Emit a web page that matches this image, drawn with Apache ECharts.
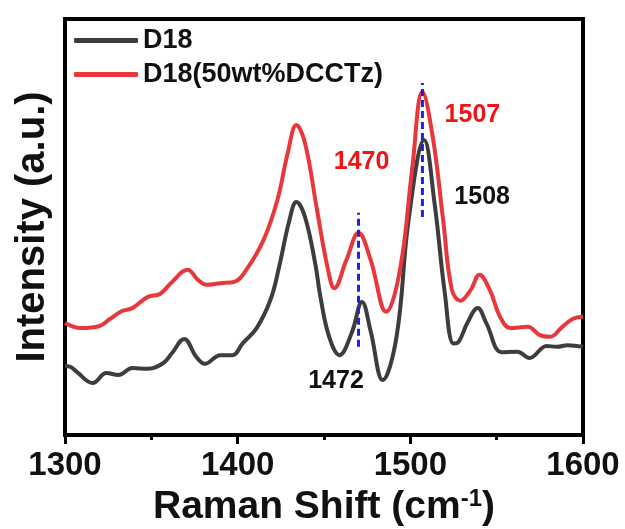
<!DOCTYPE html>
<html>
<head>
<meta charset="utf-8">
<title>Raman spectra</title>
<script src="https://cdn.jsdelivr.net/npm/echarts@6/dist/echarts.min.js"></script>
<style>
  html, body { margin: 0; padding: 0; background: #fff; }
  #chart { width: 625px; height: 529px; }
</style>
</head>
<body>
<div id="chart"></div>
<script>
// Raman shift (cm-1) and intensity (a.u.) for each sample
const d18Shift = [1300, 1303, 1307, 1316, 1324, 1331, 1339, 1348, 1357, 1362, 1369, 1376, 1381, 1390, 1397, 1403, 1411, 1419, 1424, 1430, 1434, 1439, 1445, 1448, 1453, 1459, 1466, 1472, 1477, 1484, 1492, 1499, 1508, 1514, 1520, 1525, 1528, 1533, 1539, 1544, 1553, 1562, 1569, 1579, 1585, 1591, 1600];
const d18Int   = [16.6, 16.4, 15.1, 12.5, 14.9, 14.4, 16.1, 15.9, 17.3, 19.7, 23.1, 18.8, 17.1, 19.2, 19.2, 22.1, 25.7, 32.5, 40.4, 51.7, 56.0, 52.4, 41.0, 33.0, 23.6, 19.2, 24.5, 32.0, 25.0, 13.2, 23.6, 51.7, 70.9, 55.8, 34.0, 22.0, 22.4, 26.9, 30.5, 26.9, 19.9, 20.0, 18.5, 21.4, 21.2, 21.6, 21.2];

const blendShift = [1300, 1309, 1320, 1326, 1333, 1339, 1348, 1355, 1362, 1371, 1377, 1382, 1390, 1398, 1405, 1415, 1423, 1429, 1434, 1439, 1446, 1452, 1456, 1463, 1470, 1477, 1486, 1494, 1501, 1507, 1513, 1519, 1524, 1529, 1535, 1540, 1546, 1552, 1558, 1568, 1575, 1581, 1588, 1594, 1600];
const blendInt   = [26.9, 25.7, 26.2, 27.9, 29.8, 30.5, 33.2, 33.9, 36.8, 39.7, 37.3, 36.1, 36.5, 36.8, 39.7, 46.9, 56.5, 67.8, 74.5, 70.2, 54.0, 40.4, 35.3, 42.1, 48.6, 42.1, 29.6, 39.7, 63.7, 82.5, 71.6, 51.7, 35.0, 32.3, 34.9, 38.5, 34.9, 28.4, 25.7, 26.0, 24.0, 23.6, 26.0, 27.9, 28.4];

// Peak positions that are annotated
const d18Peaks = [1472, 1508];
const blendPeaks = [1470, 1507];

// Vertical guide lines through the blend peaks
const guideShift = [1470, 1507];
const guideLow   = [21.2, 52.4];
const guideHigh  = [53.4, 84.6];

const seriesNames = ['D18', 'D18(50wt%DCCTz)'];
const xTicks = [1300, 1400, 1500, 1600];

const FONT = "'Liberation Sans', Arial, Helvetica, sans-serif";
const BLACK = '#3d3d3d';
const RED = '#e8383b';

function pairs(xs, ys) { return xs.map((x, i) => [x, ys[i]]); }

function peakMarks(xs, ys, peaks, offsets, color) {
  return peaks.map((p, k) => {
    const i = xs.indexOf(p);
    return {
      coord: [p, ys[i]],
      value: p,
      symbol: 'circle',
      symbolSize: 0,
      label: {
        show: true,
        formatter: String(p),
        color: color,
        fontFamily: FONT,
        fontWeight: 'bold',
        fontSize: 25,
        position: 'inside',
        offset: offsets[k]
      }
    };
  });
}

const chart = echarts.init(document.getElementById('chart'), null, { renderer: 'canvas' });

const guideSeries = guideShift.map((x, i) => ({
  type: 'line',
  name: 'guide' + i,
  data: [[x, guideLow[i]], [x, guideHigh[i]]],
  symbol: 'none',
  silent: true,
  z: 5,
  lineStyle: { color: '#1f1fe6', width: 3, type: [7, 4] }
}));

chart.setOption({
  animation: false,
  backgroundColor: '#fff',
  grid: {
    left: 65, right: 42, top: 19, bottom: 94,
    outerBoundsMode: 'none',
    containLabel: false,
    show: true, borderColor: '#000', borderWidth: 4
  },
  legend: {
    data: seriesNames.map(n => ({ name: n, icon: 'roundRect' })),
    left: 69, top: 22,
    orient: 'vertical',
    itemWidth: 64, itemHeight: 5, itemGap: 7,
    textStyle: { fontFamily: FONT, fontWeight: 'bold', fontSize: 27, color: '#111', padding: [0, 0, 0, 0] }
  },
  xAxis: {
    type: 'value',
    min: 1300, max: 1600, interval: 100,
    name: 'Raman Shift (cm{sup|-1})',
    nameLocation: 'middle',
    nameGap: 52,
    nameTextStyle: {
      fontFamily: FONT, fontWeight: 'bold', fontSize: 39, color: '#111',
      rich: {
        sup: { fontFamily: FONT, fontWeight: 'bold', fontSize: 24, color: '#111', verticalAlign: 'top', padding: [0, 0, 16, 0] }
      }
    },
    axisLine: { show: true, lineStyle: { color: '#000', width: 4 } },
    axisTick: { show: true, inside: false, length: 9, lineStyle: { color: '#000', width: 3 } },
    minorTick: { show: true, splitNumber: 2, length: 5, lineStyle: { color: '#000', width: 3 } },
    splitLine: { show: false },
    axisLabel: {
      margin: 14,
      fontFamily: FONT, fontWeight: 'bold', fontSize: 33, color: '#111',
      formatter: v => xTicks.includes(v) ? String(v) : ''
    }
  },
  yAxis: {
    type: 'value',
    min: 0, max: 100,
    name: 'Intensity (a.u.)',
    nameLocation: 'middle',
    nameGap: 12,
    nameTextStyle: { fontFamily: FONT, fontWeight: 'bold', fontSize: 40, color: '#111' },
    axisLine: { show: true, lineStyle: { color: '#000', width: 4 } },
    axisTick: { show: false },
    axisLabel: { show: false },
    splitLine: { show: false }
  },
  series: [
    {
      type: 'line',
      name: seriesNames[0],
      data: pairs(d18Shift, d18Int),
      symbol: 'none',
      smooth: 0.4,
      z: 3,
      lineStyle: { color: BLACK, width: 4 },
      itemStyle: { color: BLACK },
      markPoint: {
        silent: true,
        data: peakMarks(d18Shift, d18Int, d18Peaks, [[-26, 79], [58, 57]], '#111')
      }
    },
    {
      type: 'line',
      name: seriesNames[1],
      data: pairs(blendShift, blendInt),
      symbol: 'none',
      smooth: 0.4,
      z: 3,
      lineStyle: { color: RED, width: 4 },
      itemStyle: { color: RED },
      markPoint: {
        silent: true,
        data: peakMarks(blendShift, blendInt, blendPeaks, [[3, -71], [50, 23]], '#f01414')
      }
    },
    ...guideSeries
  ]
});
</script>
</body>
</html>
